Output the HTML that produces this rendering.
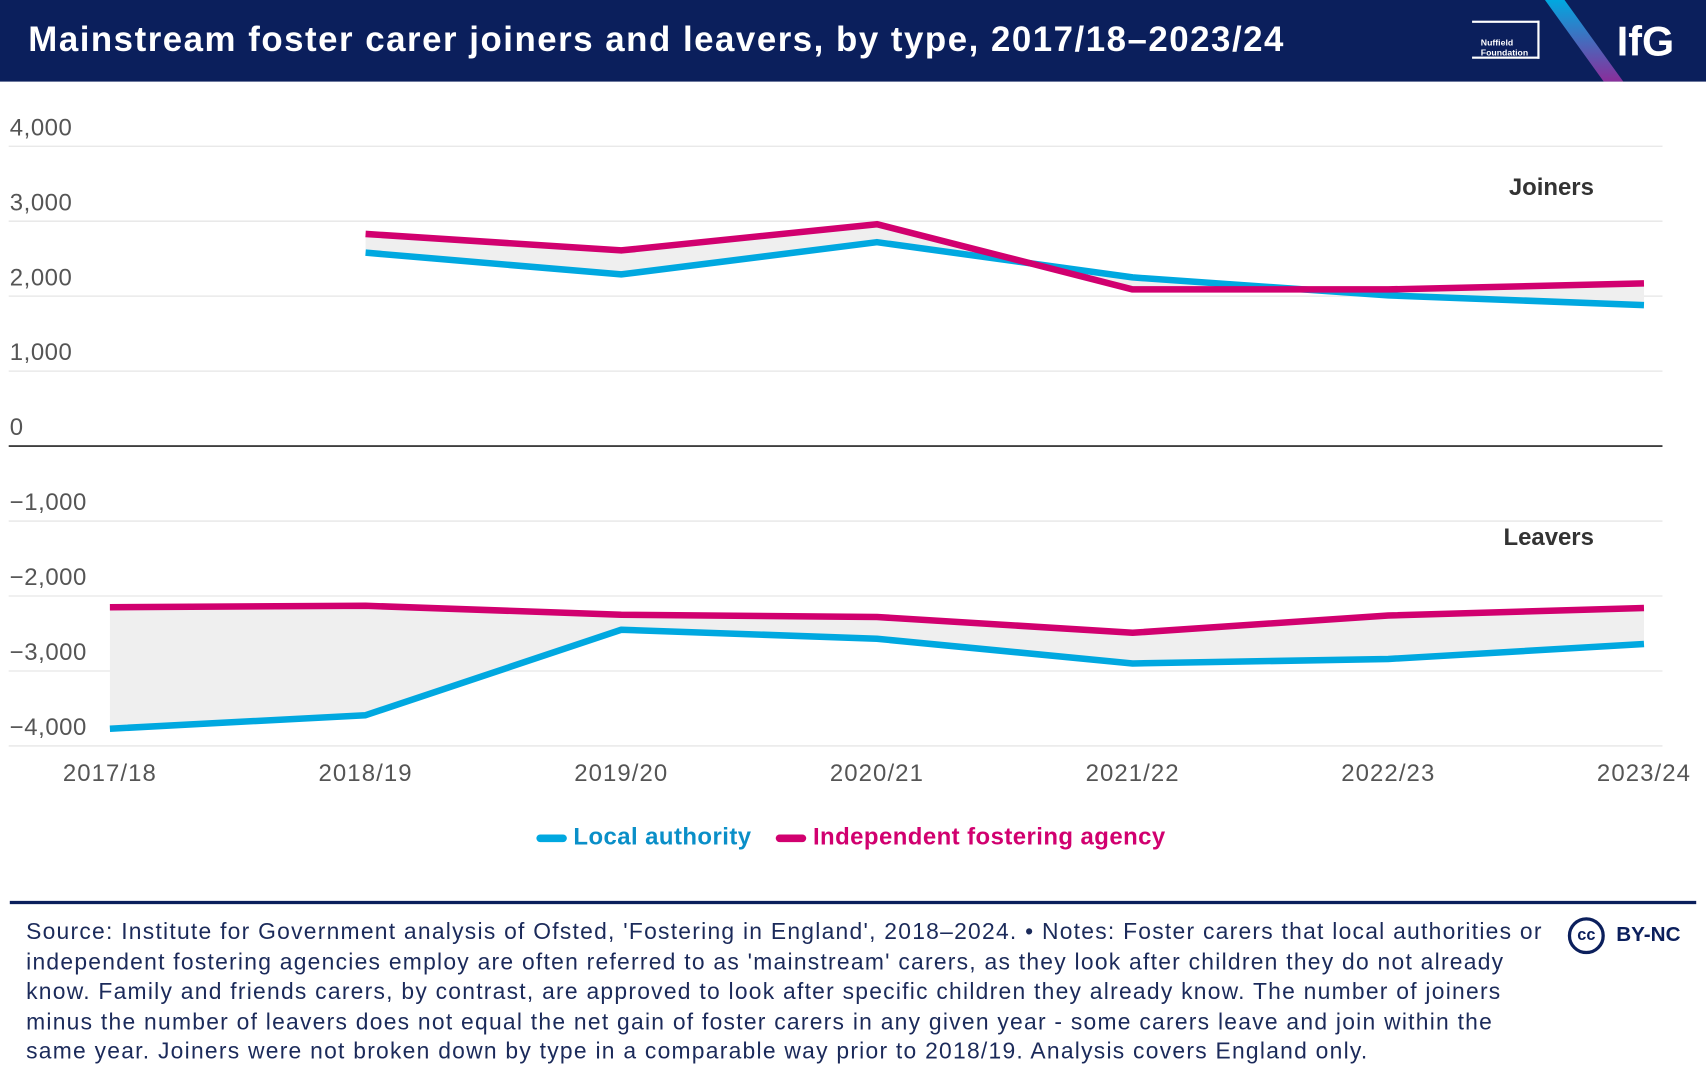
<!DOCTYPE html>
<html><head><meta charset="utf-8">
<style>
body{margin:0;width:1706px;height:1082px;overflow:hidden;background:#fff;font-family:"Liberation Sans",sans-serif;}
#wrap{position:absolute;left:0;top:0;width:1568px;height:994px;transform:scale(1.08801);transform-origin:0 0;}
#hdr{position:absolute;left:0;top:0;width:1568px;height:75px;background:#0b1f5c;overflow:hidden;}
#title{position:absolute;left:26px;top:18px;color:#fff;font-weight:bold;font-size:32px;letter-spacing:1.4px;white-space:nowrap;}
#foot{position:absolute;left:24px;top:843px;width:1420px;font-size:21px;line-height:27.6px;color:#1b2a5a;white-space:nowrap;letter-spacing:1.15px;}
</style></head><body>
<div id="wrap">
<div id="hdr">
<div id="title">Mainstream foster carer joiners and leavers, by type, 2017/18–2023/24</div>
<div style="position:absolute;left:1353px;top:19px;width:62px;height:35px;border:2px solid #fff;border-left:none;box-sizing:border-box;color:#fff;font-size:8px;font-weight:bold;line-height:9px;padding:14px 0 0 8px;">Nuffield<br>Foundation</div>
<svg style="position:absolute;left:1400px;top:0" width="168" height="75">
<defs><linearGradient id="g" x1="0" y1="0" x2="0" y2="1"><stop offset="0" stop-color="#00a8e0"/><stop offset="1" stop-color="#8a2e9a"/></linearGradient></defs>
<polygon points="20,0 38,0 92,75 74,75" fill="url(#g)"/>
<text x="86" y="51" fill="#fff" font-size="38" font-weight="bold" font-family="Liberation Sans">IfG</text>
</svg>
</div>
<svg id="chart" width="1568" height="800" style="position:absolute;left:0;top:0"></svg>
<div style="position:absolute;left:493px;top:756px;font-size:22px;font-weight:bold;white-space:nowrap;letter-spacing:0.4px;">
<span style="color:#0a8fc8"><span style="display:inline-block;width:28px;height:7px;border-radius:4px;background:#00a8e0;vertical-align:middle;margin-right:6px"></span>Local authority</span>
<span style="color:#d1006f;margin-left:16px"><span style="display:inline-block;width:28px;height:7px;border-radius:4px;background:#d1006f;vertical-align:middle;margin-right:6px"></span>Independent fostering agency</span>
</div>
<div style="position:absolute;left:9px;top:828px;width:1550px;height:3px;background:#0b1f5c"></div>
<div id="foot">Source: Institute for Government analysis of Ofsted, 'Fostering in England', 2018–2024. • Notes: Foster carers that local authorities or<br>independent fostering agencies employ are often referred to as 'mainstream' carers, as they look after children they do not already<br>know. Family and friends carers, by contrast, are approved to look after specific children they already know. The number of joiners<br>minus the number of leavers does not equal the net gain of foster carers in any given year - some carers leave and join within the<br>same year. Joiners were not broken down by type in a comparable way prior to 2018/19. Analysis covers England only.</div>
<div style="position:absolute;left:1441px;top:843px;white-space:nowrap;">
<span style="display:inline-block;width:34px;height:34px;border:3px solid #0b1f5c;border-radius:50%;box-sizing:border-box;text-align:center;font-weight:bold;font-size:15px;line-height:28px;color:#0b1f5c;vertical-align:middle">cc</span>
<span style="font-weight:bold;font-size:19px;color:#0b1f5c;vertical-align:middle;margin-left:6px">BY-NC</span>
</div>
</div>
<script>
const years=["2017/18","2018/19","2019/20","2020/21","2021/22","2022/23","2023/24"];
const ticks=[4000,3000,2000,1000,0,-1000,-2000,-3000,-4000];
const tickLabels=["4,000","3,000","2,000","1,000","0","−1,000","−2,000","−3,000","−4,000"];
const laJoiners=[null,2580,2290,2720,2250,2010,1880];
const ifaJoiners=[null,2830,2610,2960,2090,2090,2170];
const laLeavers=[-3770,-3590,-2450,-2570,-2900,-2840,-2640];
const ifaLeavers=[-2150,-2130,-2250,-2280,-2490,-2260,-2160];
const NS="http://www.w3.org/2000/svg";
const svg=document.getElementById('chart');
const x=i=>101+i*235;
const y=v=>410-v*0.0689;
function mk(t,a){const e=document.createElementNS(NS,t);for(const k in a)e.setAttribute(k,a[k]);svg.appendChild(e);return e;}
ticks.forEach((t,i)=>{
 const l=mk('line',{x1:8,x2:1528,y1:y(t),y2:y(t),stroke:t===0?'#222':'#e6e6e6','stroke-width':t===0?1.5:1.2});
 
 
 const tx=mk('text',{x:9,y:y(t)-10,'font-size':22,fill:'#555','font-family':'Liberation Sans','letter-spacing':0.5});
 tx.textContent=tickLabels[i];
 
 
});
years.forEach((yr,i)=>{
 const tx=mk('text',{x:x(i),y:718,'font-size':22,fill:'#555','text-anchor':'middle','font-family':'Liberation Sans','letter-spacing':1});
 tx.textContent=yr;
 
 
});
function band(a,b,name){
 const idx=a.map((v,i)=>i).filter(i=>a[i]!==null);
 const pts=idx.map(i=>x(i)+','+y(a[i])).concat(idx.slice().reverse().map(i=>x(i)+','+y(b[i])));
 const p=mk('polygon',{points:pts.join(' '),fill:'#efefef'});
 
 
}
function line(a,c,name){
 const pts=a.map((v,i)=>v===null?null:x(i)+','+y(v)).filter(Boolean);
 const p=mk('polyline',{points:pts.join(' '),fill:'none',stroke:c,'stroke-width':6,'stroke-linejoin':'round'});
 
 
}
band(laJoiners,ifaJoiners,'joiners-gap-area');
band(laLeavers,ifaLeavers,'leavers-gap-area');
line(laJoiners,'#00a8e0','la-joiners-line');
line(ifaJoiners,'#d1006f','ifa-joiners-line');
line(laLeavers,'#00a8e0','la-leavers-line');
line(ifaLeavers,'#d1006f','ifa-leavers-line');
[['Joiners',179,'joiners-label'],['Leavers',501,'leavers-label']].forEach(d=>{
 const t=mk('text',{x:1465,y:d[1],'font-size':22,'font-weight':'bold',fill:'#333','text-anchor':'end','font-family':'Liberation Sans'});
 t.textContent=d[0];
 
 
});
</script>
</body></html>
